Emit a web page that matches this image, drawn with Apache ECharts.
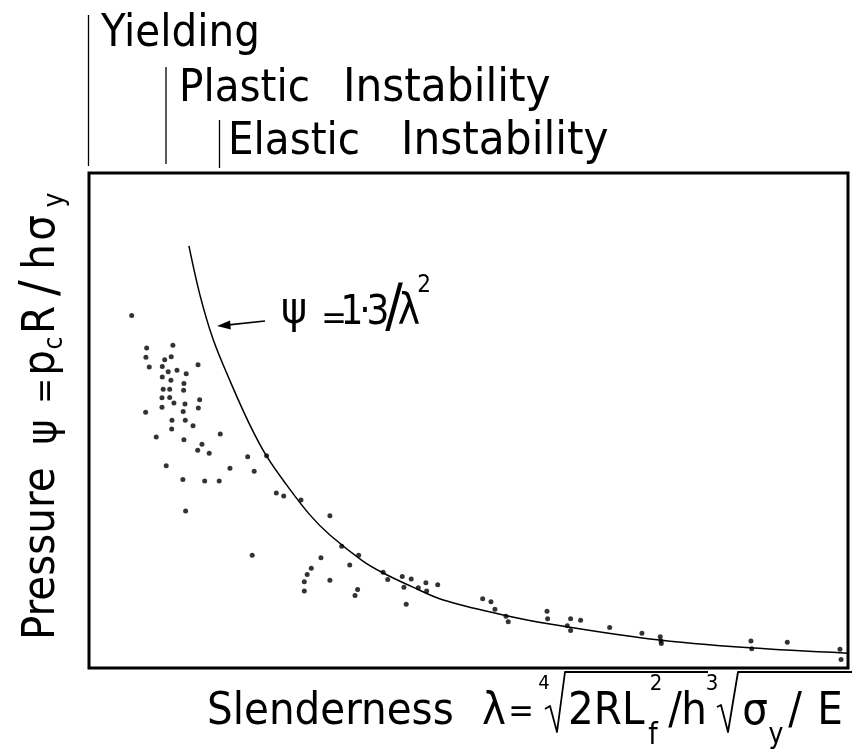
<!DOCTYPE html>
<html><head><meta charset="utf-8">
<script src="https://cdn.jsdelivr.net/npm/echarts@6/dist/echarts.min.js"></script>
<style>html,body{margin:0;padding:0;background:#fff}#c{width:856px;height:753px}</style>
</head><body><div id="c"></div>
<script>
// Fitted curve psi = 1.3 / lambda^2
const curveLambda = [1.034, 1.107, 1.193, 1.311, 1.437, 1.547, 1.679, 1.833, 1.965, 2.183, 2.317, 2.514, 2.714, 3.088, 3.418, 4.079, 4.739, 5.387];
const curvePsi    = [1.279, 1.130, 0.997, 0.864, 0.736, 0.642, 0.555, 0.464, 0.403, 0.324, 0.288, 0.245, 0.206, 0.163, 0.133, 0.088, 0.061, 0.045];

// Test results (slenderness lambda, pressure psi)
const testLambda = [0.656,0.755,0.928,0.750,0.917,0.874,0.772,0.858,0.897,0.955,1.094,1.016,0.858,0.915,1.001,0.864,0.907,0.999,0.856,0.907,
  0.935,1.105,0.748,0.856,1.008,0.996,1.096,0.922,1.010,1.061,0.920,0.818,1.001,1.241,1.120,1.092,1.168,0.884,1.422,1.547,
  1.305,1.465,0.994,1.138,1.234,1.611,1.660,1.774,1.012,1.965,1.452,2.043,2.155,1.906,1.842,2.096,1.815,1.796,1.965,1.796,
  2.148,2.131,2.317,2.347,2.443,2.502,2.454,2.599,2.549,2.604,2.677,2.469,2.974,3.029,3.055,3.128,3.143,3.399,3.403,3.533,
  3.555,3.555,3.621,3.813,4.026,4.147,4.152,4.154,4.746,4.751,4.986,5.334,5.341];
const testPsi = [1.068,0.970,0.978,0.942,0.943,0.934,0.912,0.914,0.898,0.902,0.919,0.892,0.882,0.872,0.862,0.845,0.845,0.842,0.819,0.820,
  0.803,0.813,0.775,0.790,0.800,0.777,0.788,0.751,0.751,0.734,0.724,0.700,0.692,0.709,0.678,0.660,0.651,0.613,0.640,0.643,
  0.605,0.596,0.571,0.567,0.567,0.530,0.521,0.509,0.476,0.461,0.342,0.369,0.342,0.334,0.302,0.312,0.283,0.261,0.266,0.233,
  0.238,0.220,0.290,0.268,0.277,0.270,0.245,0.258,0.243,0.233,0.252,0.193,0.210,0.201,0.178,0.157,0.140,0.172,0.149,0.128,
  0.149,0.114,0.145,0.123,0.105,0.095,0.082,0.074,0.082,0.058,0.078,0.057,0.026];

const regimeLabels = ['Yielding', 'Plastic', 'Elastic', 'Instability'];
const xName = 'Slenderness';
const yName = 'Pressure';

const FONT = '"DejaVu Sans Condensed", "Liberation Sans Narrow", "DejaVu Sans", sans-serif';
function T(text, x, y, size, align, extra) {
  return Object.assign({
    type: 'text', x: x, y: y, silent: true,
    style: { text: text, fontFamily: FONT, fontSize: size, fill: '#000',
      align: align || 'left', textAlign: align || 'left',
      verticalAlign: 'middle', textVerticalAlign: 'middle' }
  }, extra || {});
}
function L(x1, y1, x2, y2, w) {
  return { type: 'line', silent: true, shape: { x1: x1, y1: y1, x2: x2, y2: y2 },
    style: { stroke: '#000', lineWidth: w || 1.3 } };
}
function P(points, w) {
  return { type: 'polyline', silent: true, shape: { points: points },
    style: { stroke: '#000', lineWidth: w || 1.8, fill: null, lineJoin: 'round' } };
}

const graphics = [
  // regime markers
  L(88.5, 15, 88.5, 166), L(166, 67, 166, 164), L(219.5, 120, 219.5, 168),
  T(regimeLabels[0], 101, 34, 45),
  T(regimeLabels[1], 179, 89, 45), T(regimeLabels[3], 343, 89, 47),
  T(regimeLabels[2], 228, 142, 45), T(regimeLabels[3], 401, 142, 47),
  // curve annotation
  L(265, 321, 224, 325.4, 1.6),
  { type: 'polygon', silent: true, shape: { points: [[217, 326], [230, 320.5], [230.8, 329.5]] }, style: { fill: '#000' } },
  T('\u03C8', 294, 312, 44, 'center'),
  T('=', 334, 320, 34, 'center'),
  T('1', 352, 313.5, 40, 'center'),
  T('\u00B7', 365, 313.5, 40, 'center'),
  T('3', 378, 313.5, 40, 'center'),
  T('/', 394, 311, 58, 'center'),
  T('\u03BB', 409, 313.5, 42, 'center'),
  T('2', 424, 286, 24, 'center'),
  // x-axis label
  T(xName, 207, 712.5, 45),
  T('\u03BB', 494, 712.5, 45, 'center'),
  T('=', 521, 713, 34, 'center'),
  T('4', 544, 684, 20, 'center'),
  P([[545, 709], [550, 706], [557, 732], [565, 672], [708, 672]]),
  T('2RL', 568, 712.5, 45),
  T('f', 653, 736, 30, 'center'),
  T('2', 656, 684, 22, 'center'),
  T('/', 675, 712.5, 45, 'center'),
  T('h', 694, 712.5, 45, 'center'),
  T('3', 712, 684, 22, 'center'),
  P([[717, 707], [721, 705], [728, 732], [738, 672], [852, 672]]),
  T('\u03C3', 755, 712.5, 45, 'center'),
  T('y', 776, 736, 28, 'center'),
  T('/', 795, 712.5, 45, 'center'),
  T('E', 830, 712.5, 45, 'center'),
  // y-axis label (rotated)
  { type: 'group', x: 57, y: 640, rotation: Math.PI / 2, silent: true, children: [
    T(yName, 0, -14.5, 45),
    T('\u03C8', 208, -12, 42, 'center'),
    T('=', 249, -10, 34, 'center'),
    T('p', 277, -14.5, 45, 'center'),
    T('c', 297, -2, 26, 'center'),
    T('R', 320, -14.5, 45, 'center'),
    T('/', 352, -15, 52, 'center'),
    T('h', 383, -14.5, 45, 'center'),
    T('\u03C3', 412, -14.5, 45, 'center'),
    T('y', 440, -1, 28, 'center')
  ]}
];

const chart = echarts.init(document.getElementById('c'), null, { renderer: 'canvas' });
chart.setOption({
  animation: false,
  backgroundColor: '#fff',
  grid: { left: 89, right: 8, top: 173, bottom: 85, show: true, borderColor: '#000', borderWidth: 3,
    backgroundColor: 'transparent', containLabel: false, outerBoundsMode: 'none' },
  xAxis: { type: 'value', min: 0.374, max: 5.387, axisLine: { show: false }, axisTick: { show: false },
    axisLabel: { show: false }, splitLine: { show: false } },
  yAxis: { type: 'value', min: 0, max: 1.5, axisLine: { show: false }, axisTick: { show: false },
    axisLabel: { show: false }, splitLine: { show: false } },
  series: [
    { type: 'line', data: curveLambda.map((l, i) => [l, curvePsi[i]]), smooth: 0.35,
      showSymbol: false, symbol: 'none', lineStyle: { color: '#000', width: 1.5 }, silent: true, z: 2 },
    { type: 'scatter', data: testLambda.map((l, i) => [l, testPsi[i]]), symbol: 'circle', symbolSize: 5,
      itemStyle: { color: '#000' }, silent: true, z: 3 }
  ],
  graphic: graphics
});
</script>
</body></html>
